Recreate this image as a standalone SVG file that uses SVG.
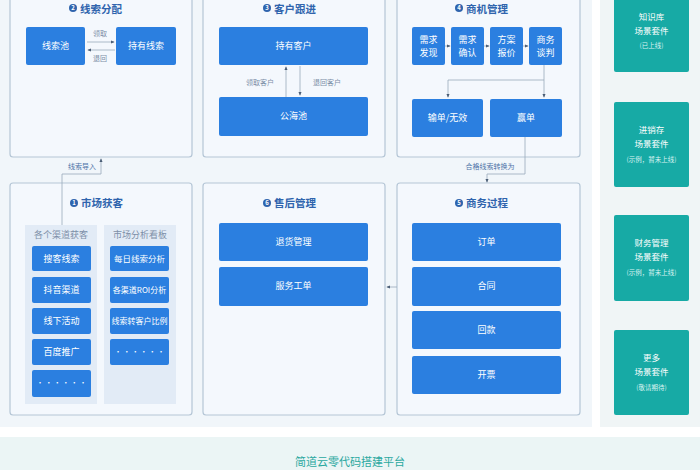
<svg xmlns="http://www.w3.org/2000/svg" width="700" height="470" viewBox="0 0 700 470">
<defs>
<style>
text{font-family:"Noto Sans CJK SC","Noto Sans",sans-serif}
.panel{fill:#f4f8fd;stroke:#b5c6d6;stroke-width:1.2}
.b{fill:#2b7fe0}
.bt{fill:#fff;font-size:9px;text-anchor:middle}
.title{fill:#2f64ad;font-size:10.5px;font-weight:bold}
.num{fill:#2f64ad}
.numt{fill:#fff;font-size:6px;font-weight:bold;text-anchor:middle}
.col{fill:#e2ebf6}
.colt{fill:#7d8fa8;font-size:9px;text-anchor:middle}
.ln{fill:none;stroke:#9aa9ba;stroke-width:0.8}
.lbl{fill:#7d8fa8;font-size:7px;text-anchor:middle}
.lbl2{fill:#4f74a8;font-size:7px;text-anchor:middle}
.teal{fill:#17aaa5}
.tt{fill:#fff;font-size:8.5px;text-anchor:middle}
.ts{fill:#d8f3f1;font-size:6.5px;text-anchor:middle}
</style>
<marker id="ar" viewBox="0 0 6 6" refX="5" refY="3" markerWidth="5" markerHeight="5" orient="auto">
<path d="M0,0.5 L6,3 L0,5.5 z" fill="#4a5d75"/>
</marker>
</defs>
<rect x="0" y="0" width="700" height="470" fill="#ffffff"/>
<rect x="0" y="0" width="592" height="427" fill="#f1f6fa"/>
<rect x="600" y="0" width="100" height="427" fill="#f0f5f6"/>
<rect x="0" y="437" width="700" height="33" fill="#ebf5f5"/>
<text x="350" y="466" fill="#2aa8a0" font-size="11" text-anchor="middle">简道云零代码搭建平台</text>

<g id="p2">
<rect class="panel" x="10" y="-5" width="182" height="162" rx="3"/>
<circle class="num" cx="73" cy="8" r="4"/><text class="numt" x="73" y="10">2</text>
<text class="title" x="80" y="12.5">线索分配</text>
<g id="n-xsc"><rect class="b" x="26" y="27" width="59" height="38" rx="2"/><text class="bt" x="55.5" y="49">线索池</text></g>
<g id="n-cyxs"><rect class="b" x="116" y="27" width="60" height="38" rx="2"/><text class="bt" x="146" y="49">持有线索</text></g>
</g>

<g id="p3">
<rect class="panel" x="203" y="-5" width="182" height="162" rx="3"/>
<circle class="num" cx="267" cy="8" r="4"/><text class="numt" x="267" y="10">3</text>
<text class="title" x="274" y="12.5">客户跟进</text>
<g id="n-cykh"><rect class="b" x="219" y="27" width="149" height="38" rx="2"/><text class="bt" x="293.5" y="49">持有客户</text></g>
<g id="n-ghc"><rect class="b" x="219" y="97" width="149" height="39" rx="2"/><text class="bt" x="293.5" y="119">公海池</text></g>
</g>

<g id="p4">
<rect class="panel" x="397" y="-5" width="183" height="162" rx="3"/>
<circle class="num" cx="459" cy="8" r="4"/><text class="numt" x="459" y="10">4</text>
<text class="title" x="466" y="12.5">商机管理</text>
<g id="n-xqfx"><rect class="b" x="412" y="27" width="33" height="38" rx="2"/><text class="bt" x="428.5" y="43">需求</text><text class="bt" x="428.5" y="56">发现</text></g>
<g id="n-xqqr"><rect class="b" x="451" y="27" width="33" height="38" rx="2"/><text class="bt" x="467.5" y="43">需求</text><text class="bt" x="467.5" y="56">确认</text></g>
<g id="n-fabj"><rect class="b" x="490" y="27" width="33" height="38" rx="2"/><text class="bt" x="506.5" y="43">方案</text><text class="bt" x="506.5" y="56">报价</text></g>
<g id="n-swtp"><rect class="b" x="529" y="27" width="33" height="38" rx="2"/><text class="bt" x="545.5" y="43">商务</text><text class="bt" x="545.5" y="56">谈判</text></g>
<g id="n-sd"><rect class="b" x="412" y="99" width="71" height="38" rx="2"/><text class="bt" x="447.5" y="121">输单/无效</text></g>
<g id="n-yd"><rect class="b" x="490" y="99" width="72" height="38" rx="2"/><text class="bt" x="526" y="121">赢单</text></g>
</g>

<g id="p1">
<rect class="panel" x="10" y="183" width="182" height="232" rx="3"/>
<circle class="num" cx="74" cy="203" r="4"/><text class="numt" x="74" y="205">1</text>
<text class="title" x="81" y="207">市场获客</text>
<rect class="col" x="25" y="225" width="72" height="179"/>
<rect class="col" x="104" y="225" width="72" height="179"/>
<text class="colt" x="61" y="238">各个渠道获客</text>
<text class="colt" x="140" y="238">市场分析看板</text>
<g id="n-ssxs"><rect class="b" x="32" y="246" width="59" height="25" rx="2"/><text class="bt" x="61.5" y="261.5">搜客线索</text></g>
<g id="n-dyqd"><rect class="b" x="32" y="277" width="59" height="26" rx="2"/><text class="bt" x="61.5" y="293">抖音渠道</text></g>
<g id="n-xxhd"><rect class="b" x="32" y="308" width="59" height="26" rx="2"/><text class="bt" x="61.5" y="324">线下活动</text></g>
<g id="n-bdtg"><rect class="b" x="32" y="339" width="59" height="26" rx="2"/><text class="bt" x="61.5" y="355">百度推广</text></g>
<g id="n-more1"><rect class="b" x="32" y="370" width="59" height="27" rx="2"/><text class="bt" x="61.5" y="385" style="font-size:7px">· · · · · ·</text></g>
<g id="n-mrxs"><rect class="b" x="110" y="246" width="59" height="25" rx="2"/><text class="bt" x="139.5" y="261.5" style="font-size:8.5px">每日线索分析</text></g>
<g id="n-roi"><rect class="b" x="110" y="277" width="59" height="26" rx="2"/><text class="bt" x="139.5" y="293" style="font-size:8px">各渠道ROI分析</text></g>
<g id="n-zh"><rect class="b" x="110" y="308" width="59" height="26" rx="2"/><text class="bt" x="139.5" y="324" style="font-size:8px">线索转客户比例</text></g>
<g id="n-more2"><rect class="b" x="110" y="339" width="59" height="26" rx="2"/><text class="bt" x="139.5" y="354" style="font-size:7px">· · · · · ·</text></g>
</g>

<g id="p6">
<rect class="panel" x="203" y="183" width="182" height="232" rx="3"/>
<circle class="num" cx="267" cy="203" r="4"/><text class="numt" x="267" y="205">6</text>
<text class="title" x="274" y="207">售后管理</text>
<g id="n-thgl"><rect class="b" x="219" y="223" width="149" height="38" rx="2"/><text class="bt" x="293.5" y="245">退货管理</text></g>
<g id="n-fwgd"><rect class="b" x="219" y="267" width="149" height="39" rx="2"/><text class="bt" x="293.5" y="289">服务工单</text></g>
</g>

<g id="p5">
<rect class="panel" x="397" y="183" width="183" height="232" rx="3"/>
<circle class="num" cx="459" cy="203" r="4"/><text class="numt" x="459" y="205">5</text>
<text class="title" x="466" y="207">商务过程</text>
<g id="n-dd"><rect class="b" x="412" y="223" width="149" height="38" rx="2"/><text class="bt" x="486.5" y="245">订单</text></g>
<g id="n-ht"><rect class="b" x="412" y="267" width="149" height="39" rx="2"/><text class="bt" x="486.5" y="289">合同</text></g>
<g id="n-hk"><rect class="b" x="412" y="311" width="149" height="38" rx="2"/><text class="bt" x="486.5" y="333">回款</text></g>
<g id="n-kp"><rect class="b" x="412" y="356" width="149" height="38" rx="2"/><text class="bt" x="486.5" y="378">开票</text></g>
</g>

<g id="kits">
<g id="k1"><rect class="teal" x="614" y="-5" width="75" height="77" rx="2"/><text class="tt" x="651.5" y="20">知识库</text><text class="tt" x="651.5" y="34">场景套件</text><text class="ts" x="651.5" y="48">(已上线)</text></g>
<g id="k2"><rect class="teal" x="614" y="102" width="75" height="85" rx="2"/><text class="tt" x="651.5" y="133">进销存</text><text class="tt" x="651.5" y="147">场景套件</text><text class="ts" x="651.5" y="162">(示例，暂未上线)</text></g>
<g id="k3"><rect class="teal" x="614" y="215" width="75" height="86" rx="2"/><text class="tt" x="651.5" y="246">财务管理</text><text class="tt" x="651.5" y="260">场景套件</text><text class="ts" x="651.5" y="275">(示例，暂未上线)</text></g>
<g id="k4"><rect class="teal" x="614" y="330" width="75" height="85" rx="2"/><text class="tt" x="651.5" y="361">更多</text><text class="tt" x="651.5" y="375">场景套件</text><text class="ts" x="651.5" y="390">(敬请期待)</text></g>
</g>

<g id="connectors">
<path class="ln" d="M87,42 H114" marker-end="url(#ar)"/>
<text class="lbl" x="100" y="36">领取</text>
<path class="ln" d="M115,50 H88" marker-end="url(#ar)"/>
<text class="lbl" x="100" y="61">退回</text>
<path class="ln" d="M286,97 V67" marker-end="url(#ar)"/>
<text class="lbl" x="260" y="85">领取客户</text>
<path class="ln" d="M300,66 V95" marker-end="url(#ar)"/>
<text class="lbl" x="327" y="85">退回客户</text>
<path class="ln" d="M445,46 H450" marker-end="url(#ar)"/>
<path class="ln" d="M484,46 H489" marker-end="url(#ar)"/>
<path class="ln" d="M523,46 H528" marker-end="url(#ar)"/>
<path class="ln" d="M544,65 V97" marker-end="url(#ar)"/>
<path class="ln" d="M544,80 H448 V97" marker-end="url(#ar)"/>
<path class="ln" d="M525,137 V174 H487 V182" marker-end="url(#ar)"/>
<text class="lbl2" x="490" y="169">合格线索转换为</text>
<path class="ln" d="M62,225 V174 H101 V159" marker-end="url(#ar)"/>
<text class="lbl2" x="82" y="169">线索导入</text>
<path class="ln" d="M397,287 H387" marker-end="url(#ar)"/>
</g>
</svg>
